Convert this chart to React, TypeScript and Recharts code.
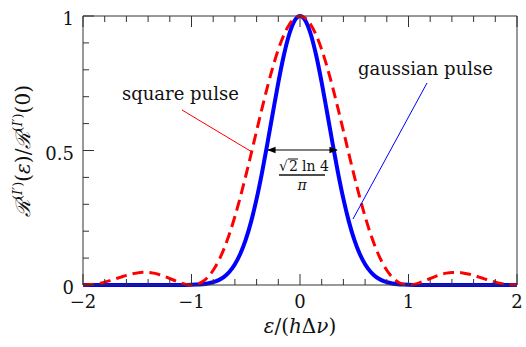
import React from 'react';
import { LineChart, Line, XAxis, YAxis } from 'recharts';

// energy offset eps/(h dnu)
const xs = [
  -2, -1.95, -1.9, -1.85, -1.8, -1.75, -1.7, -1.65, -1.6, -1.55, -1.5, -1.45, -1.4, -1.35, -1.3, -1.25, -1.2, -1.15, -1.1, -1.05,
  -1, -0.95, -0.9, -0.85, -0.8, -0.75, -0.7, -0.65, -0.6, -0.55, -0.5, -0.45, -0.4, -0.35, -0.3, -0.25, -0.2, -0.15, -0.1, -0.05,
  0, 0.05, 0.1, 0.15, 0.2, 0.25, 0.3, 0.35, 0.4, 0.45, 0.5, 0.55, 0.6, 0.65, 0.7, 0.75, 0.8, 0.85, 0.9, 0.95,
  1, 1.05, 1.1, 1.15, 1.2, 1.25, 1.3, 1.35, 1.4, 1.45, 1.5, 1.55, 1.6, 1.65, 1.7, 1.75, 1.8, 1.85, 1.9, 1.95, 2,
];

const squarePulse = [
  0, 0.0007, 0.0027, 0.0061, 0.0108, 0.0165, 0.0229, 0.0295, 0.0358, 0.0411, 0.045, 0.047, 0.0468, 0.0441, 0.0392, 0.0324, 0.0243, 0.0158, 0.008, 0.0022,
  0, 0.0027, 0.0119, 0.0289, 0.0547, 0.0901, 0.1353, 0.1904, 0.2546, 0.3268, 0.4053, 0.4881, 0.5728, 0.6566, 0.7368, 0.8106, 0.8751, 0.9281, 0.9675, 0.9918,
  1, 0.9918, 0.9675, 0.9281, 0.8751, 0.8106, 0.7368, 0.6566, 0.5728, 0.4881, 0.4053, 0.3268, 0.2546, 0.1904, 0.1353, 0.0901, 0.0547, 0.0289, 0.0119, 0.0027,
  0, 0.0022, 0.008, 0.0158, 0.0243, 0.0324, 0.0392, 0.0441, 0.0468, 0.047, 0.045, 0.0411, 0.0358, 0.0295, 0.0229, 0.0165, 0.0108, 0.0061, 0.0027, 0.0007, 0,
];

const gaussianPulse = [
  0, 0, 0, 0, 0, 0, 0, 0, 0, 0, 0, 0, 0, 0, 0, 0, 0, 0.0001, 0.0002, 0.0004,
  0.0008, 0.0016, 0.0031, 0.0058, 0.0105, 0.0182, 0.0305, 0.0494, 0.0771, 0.1161, 0.1687, 0.2365, 0.3201, 0.4181, 0.5269, 0.6408, 0.7522, 0.852, 0.9313, 0.9824,
  1, 0.9824, 0.9313, 0.852, 0.7522, 0.6408, 0.5269, 0.4181, 0.3201, 0.2365, 0.1687, 0.1161, 0.0771, 0.0494, 0.0305, 0.0182, 0.0105, 0.0058, 0.0031, 0.0016,
  0.0008, 0.0004, 0.0002, 0.0001, 0, 0, 0, 0, 0, 0, 0, 0, 0, 0, 0, 0, 0, 0, 0, 0, 0,
];

const xTicks = [-2, -1.8, -1.6, -1.4, -1.2, -1, -0.8, -0.6, -0.4, -0.2, 0, 0.2, 0.4, 0.6, 0.8, 1, 1.2, 1.4, 1.6, 1.8, 2];
const yTicks = [0, 0.1, 0.2, 0.3, 0.4, 0.5, 0.6, 0.7, 0.8, 0.9, 1];
const yMajor = [0, 0.5, 1];

const data = xs.map((x, i) => ({ x, square: squarePulse[i], gauss: gaussianPulse[i] }));

const FONT = '"DejaVu Serif", "Liberation Serif", serif';
const AXIS = '#333';
const MAJOR = 11;
const MINOR = 6;

const isInt = (v: number) => Math.abs(v - Math.round(v)) < 1e-6;
const fmt = (v: number) => (v < 0 ? '\u2212' + Math.abs(v) : String(v));

const BottomTick = (props: any) => {
  const { x, y, payload } = props;
  const major = isInt(payload.value);
  return (
    <g>
      <line x1={x} y1={y} x2={x} y2={y - (major ? MAJOR : MINOR)} stroke={AXIS} strokeWidth={1} />
      {major && (
        <text x={x} y={y + 23} textAnchor="middle" fontFamily={FONT} fontSize={18} fill="#111">
          {fmt(payload.value)}
        </text>
      )}
    </g>
  );
};

const TopTick = (props: any) => {
  const { x, y, payload } = props;
  const major = isInt(payload.value);
  return <line x1={x} y1={y} x2={x} y2={y + (major ? MAJOR : MINOR)} stroke={AXIS} strokeWidth={1} />;
};

const LeftTick = (props: any) => {
  const { x, y, payload } = props;
  const major = yMajor.some((m) => Math.abs(m - payload.value) < 1e-6);
  return (
    <g>
      <line x1={x} y1={y} x2={x + (major ? MAJOR : MINOR)} y2={y} stroke={AXIS} strokeWidth={1} />
      {major && (
        <text x={x - 9} y={y + 9} textAnchor="end" fontFamily={FONT} fontSize={18} fill="#111">
          {payload.value}
        </text>
      )}
    </g>
  );
};

const RightTick = (props: any) => {
  const { x, y, payload } = props;
  const major = yMajor.some((m) => Math.abs(m - payload.value) < 1e-6);
  return <line x1={x} y1={y} x2={x - (major ? MAJOR : MINOR)} y2={y} stroke={AXIS} strokeWidth={1} />;
};

export default function App() {
  return (
    <div style={{ position: 'absolute', left: 0, top: 0, width: 526, height: 347, background: '#fff' }}>
      <LineChart width={526} height={347} data={data} margin={{ top: 0, right: 0, bottom: 0, left: 0 }}>
        <XAxis
          xAxisId="b"
          type="number"
          dataKey="x"
          domain={[-2, 2]}
          ticks={xTicks}
          interval={0}
          height={62}
          tickSize={0}
          tickMargin={0}
          tickLine={false}
          tick={<BottomTick />}
          axisLine={{ stroke: AXIS, strokeWidth: 1 }}
        />
        <XAxis
          xAxisId="t"
          orientation="top"
          type="number"
          dataKey="x"
          domain={[-2, 2]}
          ticks={xTicks}
          interval={0}
          height={16}
          tickSize={0}
          tickMargin={0}
          tickLine={false}
          tick={<TopTick />}
          axisLine={{ stroke: AXIS, strokeWidth: 1 }}
        />
        <YAxis
          yAxisId="l"
          type="number"
          domain={[0, 1]}
          ticks={yTicks}
          interval={0}
          width={83}
          tickSize={0}
          tickMargin={0}
          tickLine={false}
          tick={<LeftTick />}
          axisLine={{ stroke: AXIS, strokeWidth: 1 }}
        />
        <YAxis
          yAxisId="r"
          orientation="right"
          type="number"
          domain={[0, 1]}
          ticks={yTicks}
          interval={0}
          width={9}
          tickSize={0}
          tickMargin={0}
          tickLine={false}
          tick={<RightTick />}
          axisLine={{ stroke: AXIS, strokeWidth: 1 }}
        />
        <Line
          xAxisId="b"
          yAxisId="l"
          type="monotone"
          dataKey="gauss"
          stroke="#0000ff"
          strokeWidth={4}
          dot={false}
          isAnimationActive={false}
        />
        <Line
          xAxisId="b"
          yAxisId="l"
          type="monotone"
          dataKey="square"
          stroke="#ff0000"
          strokeWidth={3}
          strokeDasharray="11 6"
          dot={false}
          isAnimationActive={false}
        />
      </LineChart>

      <svg width={526} height={347} style={{ position: 'absolute', left: 0, top: 0, pointerEvents: 'none' }}>
        <defs>
          <marker id="ah" viewBox="0 0 10 10" refX="9" refY="5" markerWidth="7" markerHeight="7" orient="auto-start-reverse">
            <path d="M0,1 L10,5 L0,9 z" fill="#000" />
          </marker>
        </defs>

        {/* y label */}
        <text
          transform="translate(30,151) rotate(-90)"
          textAnchor="middle"
          fontFamily={FONT}
          fontSize={20}
          fill="#111"
        >
          <tspan fontStyle="italic">ℛ</tspan>
          <tspan fontSize={13} dy={-8}>(</tspan>
          <tspan fontSize={13} fontStyle="italic">I′</tspan>
          <tspan fontSize={13}>)</tspan>
          <tspan dy={8}>(</tspan>
          <tspan fontStyle="italic">ε</tspan>
          <tspan>)/</tspan>
          <tspan fontStyle="italic">ℛ</tspan>
          <tspan fontSize={13} dy={-8}>(</tspan>
          <tspan fontSize={13} fontStyle="italic">I′</tspan>
          <tspan fontSize={13}>)</tspan>
          <tspan dy={8}>(0)</tspan>
        </text>

        {/* x label */}
        <text x={300} y={333} textAnchor="middle" fontFamily={FONT} fontSize={20} fill="#111">
          <tspan fontStyle="italic">ε</tspan>
          <tspan>/(</tspan>
          <tspan fontStyle="italic">h</tspan>
          <tspan>Δ</tspan>
          <tspan fontStyle="italic">ν</tspan>
          <tspan>)</tspan>
        </text>

        {/* square pulse annotation */}
        <text x={122} y={100} fontFamily={FONT} fontSize={18} fill="#111">square pulse</text>
        <line x1={182} y1={110} x2={252} y2={152} stroke="#ff0000" strokeWidth={1} />

        {/* gaussian pulse annotation */}
        <text x={358} y={75} fontFamily={FONT} fontSize={18} fill="#111">gaussian pulse</text>
        <line x1={427} y1={83} x2={353} y2={219} stroke="#0000ff" strokeWidth={1} />

        {/* FWHM arrow */}
        <line x1={268} y1={150} x2={337} y2={150} stroke="#000" strokeWidth={1.2} markerStart="url(#ah)" markerEnd="url(#ah)" />
        <text x={279} y={171} fontFamily={FONT} fontSize={14} fill="#111">√</text>
        <line x1={288} y1={159} x2={298} y2={159} stroke="#111" strokeWidth={1} />
        <text x={289} y={171} fontFamily={FONT} fontSize={14} fill="#111">2</text>
        <text x={302} y={171} fontFamily={FONT} fontSize={14} fill="#111">ln 4</text>
        <line x1={279} y1={175} x2={325} y2={175} stroke="#111" strokeWidth={1.5} />
        <text x={302} y={190} textAnchor="middle" fontFamily={FONT} fontSize={14} fontStyle="italic" fill="#111">π</text>
      </svg>
    </div>
  );
}
